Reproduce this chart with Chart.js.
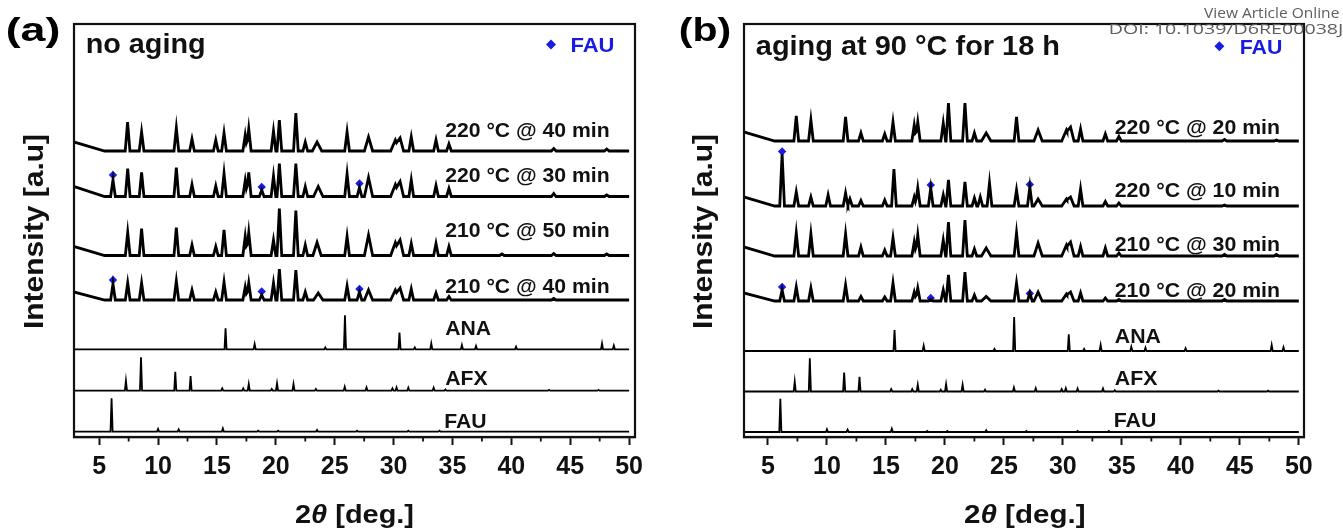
<!DOCTYPE html>
<html><head><meta charset="utf-8">
<script src="https://cdn.jsdelivr.net/npm/chart.js@4.4.1/dist/chart.umd.min.js"></script>
<style>
html,body{margin:0;padding:0;background:#fff;width:1343px;height:528px;overflow:hidden}
canvas{position:absolute;left:0;top:0}
</style></head><body>
<canvas id="ca" width="1343" height="528"></canvas>
<canvas id="cb" width="1343" height="528"></canvas>
<script>
// ---------------- DATA ----------------
const xTickValues = [5,10,15,20,25,30,35,40,45,50];
const xMinorTickValues = [7.5,12.5,17.5,22.5,27.5,32.5,37.5,42.5,47.5];
const seriesNamesA = ['220 °C @ 40 min','220 °C @ 30 min','210 °C @ 50 min','210 °C @ 40 min'];
const seriesNamesB = ['220 °C @ 20 min','220 °C @ 10 min','210 °C @ 30 min','210 °C @ 20 min'];
const refNames = ['ANA','AFX','FAU'];
const panelTitleA = 'no aging';
const panelTitleB = 'aging at 90 °C for 18 h';

// peaks: [2θ, intensity above own baseline, optional half width]
const a_220_40 = [[2.86,9,2.6],[7.41,29],[8.6,19],[11.55,23],[12.88,12],[14.9,11],[15.6,18],[17.4,16],[17.7,22],[19.8,20],[20.3,31],[21.7,38],[22.5,9],[23.5,9,0.4],[26.05,19],[27.87,14,0.35],[30.15,11,0.4],[30.55,13,0.3],[31.5,14],[33.6,11],[34.7,7],[43.6,2.5],[48.1,2]];
const a_220_30 = [[2.86,10,2.6],[6.17,16.5],[7.42,28],[8.6,24],[11.55,29],[12.88,12],[14.9,10.5],[15.6,23],[17.4,16],[17.7,24],[18.8,6.5],[19.8,20.5],[20.3,33],[21.7,33],[22.5,10],[23.6,10,0.4],[26.05,22.5],[27.1,9],[27.87,19,0.35],[30.15,12,0.4],[30.55,15,0.3],[31.5,16.5],[33.6,11],[34.7,8],[43.6,3],[48.1,1.5]];
const a_210_50 = [[2.86,9,2.6],[7.42,23],[8.6,27],[11.55,28],[12.88,10.5],[14.9,9],[15.6,25.5],[17.4,19],[17.7,23],[19.8,15.5],[20.3,47],[21.7,45],[22.5,10.5],[23.5,13,0.35],[26.05,19],[27.87,20.5,0.35],[30.15,13,0.4],[30.55,15.5,0.3],[31.5,12],[33.6,12],[34.7,9],[39.2,1.5],[43.6,2],[48.1,1.5]];
const a_210_40 = [[2.86,8,2.6],[6.17,16],[7.42,17],[8.6,17],[11.55,19],[12.88,10],[14.9,8],[15.6,18],[17.4,13],[17.7,17],[18.8,5],[19.8,17],[20.3,31],[21.7,30],[22.5,8],[23.6,7,0.4],[26.05,14],[27.1,8],[27.87,10,0.35],[30.15,10,0.4],[30.55,12,0.3],[31.5,11],[33.6,7],[34.7,3.5],[43.6,1.5]];

const b_220_20 = [[2.97,9,2.6],[7.4,25],[8.64,21],[11.58,24],[12.88,8],[14.9,7],[15.6,19],[17.4,16],[17.7,19],[19.86,18],[20.3,38],[21.7,38],[22.5,8],[23.5,8,0.4],[26.07,24],[27.9,11,0.35],[30.3,11,0.4],[30.65,14,0.3],[31.5,12],[33.6,7],[34.75,4.5],[43.7,1.5],[48.1,1]];
const b_220_10 = [[2.97,9,2.6],[6.2,52],[7.4,14],[8.64,9],[10.1,11],[11.58,13],[11.95,7],[12.88,5.5],[14.9,6],[15.68,37],[17.4,9],[17.7,18],[18.8,18],[19.86,11],[20.3,26],[21.7,24],[22.5,8],[23.0,9],[23.78,23],[26.07,16],[27.2,19],[27.9,7,0.35],[30.3,7,0.4],[30.65,9,0.3],[31.5,17],[33.6,4.5],[34.75,3],[43.7,1]];
const b_210_30 = [[2.97,9,2.6],[7.4,23],[8.64,22],[11.58,22],[12.88,9],[14.9,6],[15.6,18],[17.4,14],[17.7,21],[19.86,16],[20.3,34],[21.7,36],[22.5,7],[23.5,8,0.4],[26.07,23],[27.9,13,0.35],[30.3,11,0.4],[30.65,14,0.3],[31.5,9.5],[33.6,8],[34.75,3],[43.7,1.5],[48.1,1.5]];
const b_210_20 = [[2.97,8,2.6],[6.2,11],[7.4,14],[8.64,13],[11.58,16],[12.88,4.5],[14.9,4],[15.6,18],[17.4,9],[17.7,13],[18.8,1.5],[19.86,11],[20.3,26],[21.7,29],[22.5,6],[23.5,4.5,0.4],[26.07,18],[27.2,8],[27.9,9,0.35],[30.3,7,0.4],[30.65,9,0.3],[31.5,8],[33.6,3],[34.75,1.5],[43.7,1.5]];

const ref_ANA = [[15.73,21],[18.2,5.3],[24.2,2],[25.87,34],[30.5,16.7],[31.8,2],[33.2,6],[35.8,4.3],[37.0,3.3],[40.4,2.7],[47.7,6],[48.7,3.7]];
const ref_AFX = [[7.27,10],[8.55,33.3],[11.46,19],[12.76,14.7],[15.45,2.3],[17.23,2.3],[17.7,6.7],[19.65,1.7],[20.1,7.3],[21.5,6.7],[23.4,1.7],[25.85,4],[27.7,3.3],[29.9,2.3],[30.25,3.3],[31.25,3],[33.4,3],[34.4,1.3],[43.2,0.8],[47.4,0.8]];
const ref_FAU = [[6.05,33.3],[10.0,2.7],[11.75,2.3],[15.5,3.3],[18.5,1],[20.2,1],[23.5,1.7],[26.9,1],[31.25,1],[33.9,1]];

// FAU marker positions: [2θ, height above the pattern baseline]
const fau_a_220_30 = [[6.17,21.5],[18.8,9.5],[27.1,13]];
const fau_a_210_40 = [[6.17,20],[18.8,8.5],[27.1,11]];
const fau_b_220_10 = [[6.2,54.5],[18.8,21],[27.2,21.5]];
const fau_b_210_20 = [[6.2,14],[18.8,3],[27.2,7.5]];

// ---------------- LAYOUT ----------------
const FONT = 'Arial, "Liberation Sans", sans-serif';
const BLUE = '#1a1ae6';
const panels = [
  { id:'ca', padL:74, padR:1343-635, xmin:2.86, xmax:50.5,
    patterns:[a_220_40,a_220_30,a_210_50,a_210_40], names:seriesNamesA,
    bases:[286,240.5,181.5,137], refBases:[87.7,46.3,5.3],
    marks:[null,fau_a_220_30,null,fau_a_210_40],
    labelY:[307.7,262,207.7,151], refLabelY:[109,59,16], labelX0:34.38, labelX1:48.3,
    tag:'(a)', tagX:[7,59], tagY:29, title:panelTitleA, titleX:[86.7,204], titleY:43.5, titleSize:27,
    leg:{dx:551, x0:571.5, x1:613.6, y:44.5}, yTitleX:36, xTitleX:[295,414] },
  { id:'cb', padL:744, padR:1343-1304, xmin:2.97, xmax:50.44,
    patterns:[b_220_20,b_220_10,b_210_30,b_210_20], names:seriesNamesB,
    bases:[296,231,181,136], refBases:[86,45.5,5],
    marks:[null,fau_b_220_10,null,fau_b_210_20],
    labelY:[310.3,247.7,193,147], refLabelY:[101,59,17.5], labelX0:34.4, labelX1:48.36,
    tag:'(b)', tagX:[680,730], tagY:29, title:panelTitleB, titleX:[755.8,1058.4], titleY:45.8, titleSize:27,
    leg:{dx:1219.4, x0:1240.8, x1:1281.6, y:46.3}, yTitleX:705, xTitleX:[964,1085.5], watermark:true }
];

function buildLine(peaks, base, defW) {
  const xs = [2.0, 50.0];
  peaks.forEach(p => { const w = p[2] || defW; xs.push(p[0]-w, p[0], p[0]+w); });
  xs.sort((a,b)=>a-b);
  return xs.filter(x => x <= 50.0).map(x => {
    let h = 0;
    peaks.forEach(p => { const w = p[2] || defW; const d = Math.abs(x - p[0]); if (d < w) h = Math.max(h, p[1]*(1 - d/w)); });
    return {x, y: base + h};
  });
}

function inkText(ctx, txt, x0, x1, yc, size, color, o) {
  o = o || {};
  ctx.save();
  ctx.font = (o.weight || 'bold') + ' ' + size + 'px ' + (o.family || FONT);
  ctx.fillStyle = color; ctx.textBaseline = 'alphabetic'; ctx.textAlign = 'left';
  const m = ctx.measureText(txt);
  const w = m.actualBoundingBoxLeft + m.actualBoundingBoxRight;
  const s = (x1 != null) ? (x1 - x0) / w : (o.scale || 1);
  const cap = (o.cap || 0.716) * size;
  ctx.translate(x0, yc + cap / 2);
  ctx.scale(s, 1);
  ctx.fillText(txt, m.actualBoundingBoxLeft, 0);
  ctx.restore();
  return s;
}

function diamond(ctx, x, y, r, color) {
  ctx.save(); ctx.fillStyle = color; ctx.beginPath();
  ctx.moveTo(x, y - r); ctx.lineTo(x + r, y); ctx.lineTo(x, y + r); ctx.lineTo(x - r, y); ctx.closePath(); ctx.fill(); ctx.restore();
}

function makeChart(P) {
  const datasets = [];
  P.patterns.forEach((pk, i) => datasets.push({ data: buildLine(pk, P.bases[i], 0.2), showLine:true, pointRadius:0, borderColor:'#000', borderWidth:2.8, tension:0, fill:false }));
  [ref_ANA, ref_AFX, ref_FAU].forEach((pk, i) => datasets.push({ data: buildLine(pk, P.refBases[i], 0.09), showLine:true, pointRadius:0, borderColor:'#000', borderWidth:1.8, tension:0, fill:false }));
  const md = [];
  P.marks.forEach((m, i) => { if (m) m.forEach(([x, h]) => md.push({x, y: P.bases[i] + h})); });
  datasets.push({ data: md, showLine:false, pointStyle:'rectRot', pointRadius:4.2, pointHoverRadius:4.2, backgroundColor:BLUE, borderWidth:0 });

  const deco = {
    id: 'deco',
    afterDraw(chart) {
      const ctx = chart.ctx, a = chart.chartArea, xs = chart.scales.x, ys = chart.scales.y;
      ctx.save();
      ctx.strokeStyle = '#111'; ctx.lineWidth = 2.2;
      ctx.strokeRect(a.left, a.top, a.right - a.left, a.bottom - a.top);
      ctx.lineWidth = 1.8; ctx.beginPath();
      xMinorTickValues.forEach(v => { const px = xs.getPixelForValue(v); ctx.moveTo(px, a.bottom); ctx.lineTo(px, a.bottom + 4.5); });
      ctx.stroke();
      ctx.restore();
      // series labels
      const lx0 = xs.getPixelForValue(P.labelX0), lx1 = xs.getPixelForValue(P.labelX1);
      let sc = 1;
      P.names.forEach((n, i) => { sc = inkText(ctx, n, lx0, lx1, ys.getPixelForValue(P.labelY[i]), 20.5, '#111'); });
      refNames.forEach((n, i) => inkText(ctx, n, lx0, null, ys.getPixelForValue(P.refLabelY[i]), 20.5, '#111', {scale: sc}));
      // headers
      inkText(ctx, P.tag, P.tagX[0], P.tagX[1], P.tagY, 33, '#000');
      inkText(ctx, P.title, P.titleX[0], P.titleX[1], P.titleY, P.titleSize, '#111');
      diamond(ctx, P.leg.dx, P.leg.y, 5, BLUE);
      inkText(ctx, 'FAU', P.leg.x0, P.leg.x1, P.leg.y, 20.5, BLUE);
      // y title
      ctx.save();
      ctx.font = 'bold 27px ' + FONT; ctx.fillStyle = '#111';
      const yt = 'Intensity [a.u]';
      const m = ctx.measureText(yt);
      const w = m.actualBoundingBoxLeft + m.actualBoundingBoxRight;
      ctx.translate(P.yTitleX + 0.26 * 27, 328);
      ctx.rotate(-Math.PI / 2);
      ctx.scale(193 / w, 1);
      ctx.fillText(yt, m.actualBoundingBoxLeft, 0);
      ctx.restore();
      // x title with italic theta
      ctx.save();
      const parts = [['2','bold'],['θ','italic bold'],[' [deg.]','bold']];
      let tot = 0;
      parts.forEach(p => { ctx.font = p[1] + ' 26px ' + FONT; tot += ctx.measureText(p[0]).width; });
      const s2 = (P.xTitleX[1] - P.xTitleX[0]) / tot;
      ctx.translate(P.xTitleX[0], 514 + 0.358 * 26);
      ctx.scale(s2, 1);
      ctx.fillStyle = '#111'; ctx.textBaseline = 'alphabetic';
      let cx = 0;
      parts.forEach(p => { ctx.font = p[1] + ' 26px ' + FONT; ctx.fillText(p[0], cx, 0); cx += ctx.measureText(p[0]).width; });
      ctx.restore();
      if (P.watermark) {
        inkText(ctx, 'View Article Online', 1204, 1339.5, 13.3, 14, '#5e5e5e', {weight:'normal', family:'"Open Sans", sans-serif', cap:0.714});
        inkText(ctx, 'DOI: 10.1039/D6RE00038J', 1110, 1342, 29, 15, '#5e5e5e', {weight:'normal', family:'"Open Sans", sans-serif', cap:0.714});
      }
    }
  };

  return new Chart(document.getElementById(P.id), {
    type: 'scatter',
    data: { datasets },
    options: {
      responsive:false, animation:false, devicePixelRatio:1,
      layout: { padding: { left:P.padL, right:P.padR, top:24, bottom:0 } },
      plugins: { legend:{display:false}, tooltip:{enabled:false} },
      scales: {
        x: { type:'linear', min:P.xmin, max:P.xmax,
             afterBuildTicks: s => { s.ticks = xTickValues.map(v => ({value:v})); },
             afterFit: s => { s.height = 91; },
             grid: { drawOnChartArea:false, drawTicks:true, tickLength:8, tickWidth:2, tickColor:'#111', color:'#111' },
             border: { display:true, color:'#111', width:2.2 },
             ticks: { color:'#111', font:{ family:FONT, size:25, weight:'bold' }, padding:7, maxRotation:0, autoSkip:false },
             title: { display:false } },
        y: { display:false, min:0, max:413 }
      }
    },
    plugins: [deco]
  });
}
panels.forEach(makeChart);
</script>
</body></html>
